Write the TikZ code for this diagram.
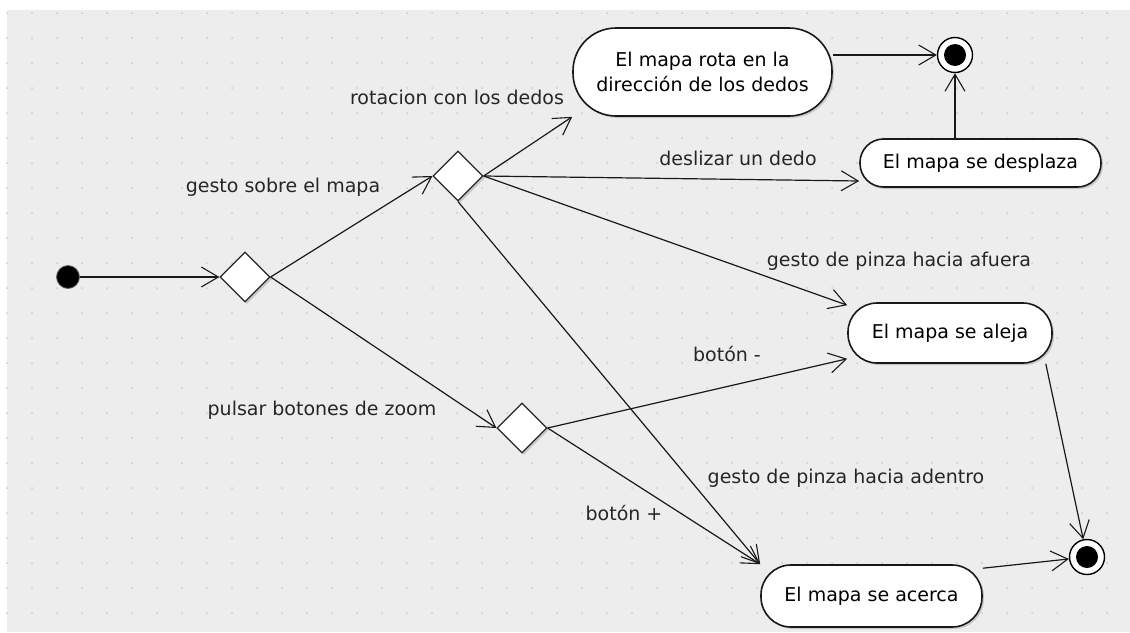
\documentclass[tikz,border=0pt]{standalone}
\usepackage{fontspec}
\setmainfont{DejaVu Sans}
\usetikzlibrary{arrows.meta,shapes.geometric,shadows}
\begin{document}
\begin{tikzpicture}[x=1pt,y=-1pt,
  lbl/.style={font=\fontsize{19}{23}\selectfont, inner sep=0pt, text=black!85},
  act/.style={draw=black!90, line width=1.6pt, fill=white, rounded corners=#1,
    font=\fontsize{19}{25}\selectfont, inner sep=0pt, align=center,
    drop shadow={shadow xshift=2pt, shadow yshift=-2pt, fill=black!30, opacity=0.6}},
  dec/.style={diamond, draw=black!85, line width=1.2pt, fill=white, aspect=1,
    minimum width=50pt, minimum height=50pt, inner sep=0pt,
    drop shadow={shadow xshift=2pt, shadow yshift=-2pt, fill=black!30, opacity=0.6}},
  initn/.style={circle, fill=black, draw=black!60, line width=0.8pt, minimum size=23pt, inner sep=0pt},
  finaln/.style={circle, fill=white, draw=black, line width=1.4pt, minimum size=35pt, inner sep=0pt,
    path picture={\fill[black] (path picture bounding box.center) circle[radius=11pt];}},
  flow/.style={draw=black!90, line width=1.2pt, -{Straight Barb[length=17pt, width=20pt, line width=1.1pt]}}
]
\useasboundingbox (0,0) rectangle (1130,632);
\fill[white] (0,0) rectangle (1130,632);
\fill[black!7] (7,10) rectangle (1130,632);
\foreach \x in {7,32,...,1130} {
  \foreach \y in {13,38,...,632} {
    \fill[black!20] (\x,\y) circle[radius=1pt];
  }
}

% nodes
\node[initn] (init) at (68,277) {};
\node[dec] (d1) at (245,277) {};
\node[dec] (d2) at (458,176) {};
\node[dec] (d3) at (522,428) {};
\node[act=43pt, minimum width=259pt, minimum height=88pt] (rota) at (702.5,72) {El mapa rota en la\\direcci\'on de los dedos};
\node[act=23.5pt, minimum width=241pt, minimum height=48pt] (desp) at (980.5,163) {El mapa se desplaza};
\node[act=29pt, minimum width=204pt, minimum height=60pt] (aleja) at (950,333) {El mapa se aleja};
\node[act=30pt, minimum width=221pt, minimum height=62pt] (acerca) at (871.5,596) {El mapa se acerca};
\node[finaln] (ftop) at (955,55) {};
\node[finaln] (fbot) at (1087,557) {};

% connectors
\draw[flow] (init) -- (d1.west);
\draw[flow] (d1.east) -- (d2.west);
\draw[flow] (d1.east) -- (d3.west);
\draw[flow] (d2.east) -- (rota.south west);
\draw[flow] (d2.east) -- ([yshift=-18pt]desp.west);
\draw[flow] (d2.east) -- ([yshift=-3pt]aleja.north west);
\draw[flow] (d2.south) -- (acerca.north west);
\draw[flow] (d3.east) -- ([yshift=5pt]aleja.south west);
\draw[flow] (d3.east) -- (acerca.north west);
\draw[flow] (rota.east |- ftop) -- (ftop);
\draw[flow] (desp.north -| ftop) -- (ftop);
\draw[flow] ([xshift=-7pt]aleja.south east) -- (fbot);
\draw[flow] ([yshift=-4pt]acerca.north east) -- (fbot);

% labels
\node[lbl] (l1) at (457,97) {rotacion con los dedos};
\node[lbl] (l2) at (283,187) {gesto sobre el mapa};
\node[lbl] (l3) at (738,158) {deslizar un dedo};
\node[lbl] (l4) at (899,261) {gesto de pinza hacia afuera};
\node[lbl] (l5) at (727,354) {bot\'on -};
\node[lbl] (l6) at (322,410) {pulsar botones de zoom};
\node[lbl] (l7) at (846,478) {gesto de pinza hacia adentro};
\node[lbl] (l8) at (624,513) {bot\'on +};
\end{tikzpicture}
\end{document}
